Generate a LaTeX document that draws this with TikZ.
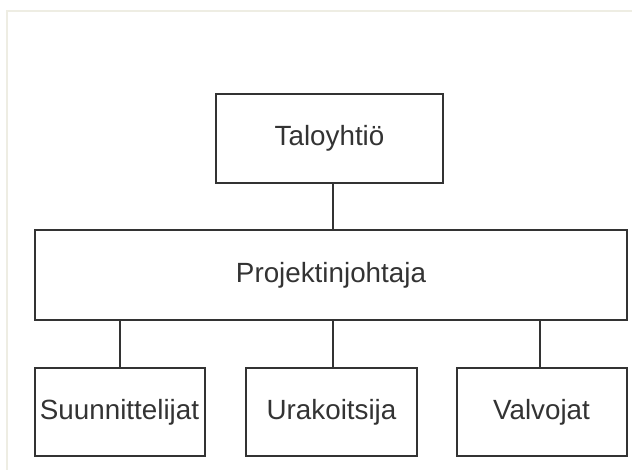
\documentclass[tikz,border=0pt]{standalone}
\usepackage{fontspec}
\setmainfont{Liberation Sans}
\definecolor{frame}{HTML}{EEEDE3}
\definecolor{ink}{HTML}{333333}

\begin{document}
\begin{tikzpicture}[x=0.5pt,y=-0.5pt,
  box/.style={draw=ink,line width=1pt,inner sep=0pt,
    font=\fontsize{13.9}{16}\selectfont,text=ink},
  link/.style={draw=ink,line width=1pt}]
  \useasboundingbox (0,0) rectangle (632,470);
  \draw[frame,line width=1pt] (632,11) -- (7,11) -- (7,470);
  \node[box,minimum width=113.5pt,minimum height=44.5pt] (tal) at (329.5,138.5) {Taloyhti\"o};
  \node[box,minimum width=296pt,minimum height=45pt] (proj) at (331,275) {Projektinjohtaja};
  \node[box,minimum width=85pt,minimum height=44pt] (suun) at (119.5,412) {Suunnittelijat};
  \node[box,minimum width=85.5pt,minimum height=44pt] (urak) at (331.5,412) {Urakoitsija};
  \node[box,minimum width=85pt,minimum height=44pt] (valv) at (541.5,412) {Valvojat};
  \draw[link] ([xshift=1.75pt]tal.south) -- ([xshift=1.75pt]tal.south |- proj.north);
  \draw[link] (proj.south -| suun) -- (suun);
  \draw[link] ([xshift=0.75pt]proj.south -| urak) -- ([xshift=0.75pt]urak.north);
  \draw[link] ([xshift=-0.75pt]proj.south -| valv) -- ([xshift=-0.75pt]valv.north);
\end{tikzpicture}
\end{document}
